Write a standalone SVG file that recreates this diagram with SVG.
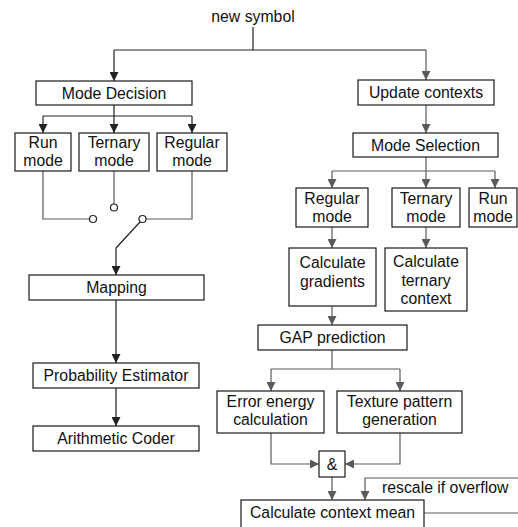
<svg xmlns="http://www.w3.org/2000/svg" width="518" height="527" viewBox="0 0 518 527">
<defs>
<marker id="ad" viewBox="0 0 10 10" refX="10" refY="5" markerWidth="9" markerHeight="9" markerUnits="userSpaceOnUse" orient="auto"><path d="M0,0 L10,5 L0,10 z" fill="#222"/></marker>
<marker id="ag" viewBox="0 0 10 10" refX="10" refY="5" markerWidth="9" markerHeight="9" markerUnits="userSpaceOnUse" orient="auto"><path d="M0,0 L10,5 L0,10 z" fill="#5a5a5a"/></marker>
<style>
.box{fill:#fff;stroke:#1a1a1a;stroke-width:1.2}
text{font-family:"Liberation Sans",Arial,Helvetica,sans-serif;font-size:15.8px;fill:#111;text-anchor:middle}
.cd{fill:none;stroke:#222;stroke-width:1.2}
.cg{fill:none;stroke:#5a5a5a;stroke-width:1.2}
.dd{marker-end:url(#ad)}
.dg{marker-end:url(#ag)}
.sw{fill:#fff;stroke:#222;stroke-width:1.2}
</style>
</defs>
<g id="connectors">
<path class="cd" d="M253,27 V50"/>
<path class="cd" d="M114,50 H426"/>
<path class="cd dd" d="M114,50 V81"/>
<path class="cg dg" d="M426,50 V80"/>
<path class="cd" d="M114,105 V116 M43,116 H192"/>
<path class="cd dd" d="M43,116 V133"/>
<path class="cd dd" d="M114,116 V133"/>
<path class="cd dd" d="M192,116 V133"/>
<path class="cg" d="M43,171 V219 H89.5"/>
<path class="cg" d="M114,171 V204"/>
<path class="cg" d="M192,171 V219 H146"/>
<path class="cd" d="M140,222 L116,248"/>
<path class="cd dd" d="M116,248 V275"/>
<path class="cd dd" d="M116,300 V363"/>
<path class="cd dd" d="M116,388 V426"/>
<path class="cg dg" d="M426,105 V133"/>
<path class="cg" d="M426,157 V171 M332,171 H495"/>
<path class="cg dg" d="M332,171 V188"/>
<path class="cg dg" d="M426,171 V188"/>
<path class="cg dg" d="M495,171 V188"/>
<path class="cg dg" d="M332,227 V248"/>
<path class="cg dg" d="M426,227 V248"/>
<path class="cg dg" d="M332,306 V325"/>
<path class="cg" d="M332,350 V369 M271,369 H400"/>
<path class="cg dg" d="M271,369 V391"/>
<path class="cg dg" d="M400,369 V391"/>
<path class="cg dg" d="M271,433 V464 H319"/>
<path class="cg dg" d="M400,433 V464 H345"/>
<path class="cg dg" d="M332,477 V500"/>
<path class="cg dg" d="M518,478 H365 V500"/>
<path class="cg" d="M424,513 H518"/>
<circle class="sw" cx="93" cy="219" r="3.5"/>
<circle class="sw" cx="114" cy="207.5" r="3.5"/>
<circle class="sw" cx="142.5" cy="219" r="3.5"/>
</g>
<g id="new-symbol"><text x="253" y="22">new symbol</text></g>
<g id="mode-decision"><rect class="box" x="36" y="81" width="156" height="24"/><text x="114" y="98.5">Mode Decision</text></g>
<g id="run-mode-l"><rect class="box" x="15" y="133" width="56" height="38"/><text x="43" y="147.5">Run</text><text x="43" y="165.5">mode</text></g>
<g id="ternary-mode-l"><rect class="box" x="79" y="133" width="70" height="38"/><text x="114" y="147.5">Ternary</text><text x="114" y="165.5">mode</text></g>
<g id="regular-mode-l"><rect class="box" x="157" y="133" width="70" height="38"/><text x="192" y="147.5">Regular</text><text x="192" y="165.5">mode</text></g>
<g id="mapping"><rect class="box" x="29" y="275" width="175" height="25"/><text x="116.5" y="293">Mapping</text></g>
<g id="prob-est"><rect class="box" x="33" y="363" width="166" height="25"/><text x="116" y="381">Probability Estimator</text></g>
<g id="arith-coder"><rect class="box" x="33" y="426" width="166" height="25"/><text x="116" y="444">Arithmetic Coder</text></g>
<g id="update-contexts"><rect class="box" x="358" y="80" width="136" height="25"/><text x="426" y="98">Update contexts</text></g>
<g id="mode-selection"><rect class="box" x="353" y="133" width="145" height="24"/><text x="425.5" y="150.5">Mode Selection</text></g>
<g id="regular-mode-r"><rect class="box" x="296" y="188" width="72" height="39"/><text x="332" y="203.5">Regular</text><text x="332" y="221.5">mode</text></g>
<g id="ternary-mode-r"><rect class="box" x="392" y="188" width="68" height="39"/><text x="426" y="203.5">Ternary</text><text x="426" y="221.5">mode</text></g>
<g id="run-mode-r"><rect class="box" x="469" y="188" width="48" height="39"/><text x="493" y="203.5">Run</text><text x="493" y="221.5">mode</text></g>
<g id="calc-gradients"><rect class="box" x="289" y="248" width="87" height="58"/><text x="332.5" y="268">Calculate</text><text x="332.5" y="287">gradients</text></g>
<g id="calc-ternary"><rect class="box" x="385" y="248" width="82" height="63"/><text x="426" y="267">Calculate</text><text x="426" y="285.5">ternary</text><text x="426" y="304">context</text></g>
<g id="gap-prediction"><rect class="box" x="258" y="325" width="149" height="25"/><text x="332.5" y="343">GAP prediction</text></g>
<g id="error-energy"><rect class="box" x="217" y="391" width="107" height="42"/><text x="270.5" y="407">Error energy</text><text x="270.5" y="425">calculation</text></g>
<g id="texture-pattern"><rect class="box" x="337" y="391" width="125" height="42"/><text x="399.5" y="407">Texture pattern</text><text x="399.5" y="425">generation</text></g>
<g id="and"><rect class="box" x="319" y="451" width="26" height="26"/><text x="332" y="469.5">&amp;</text></g>
<g id="rescale-label"><text x="382" y="493" style="text-anchor:start">rescale if overflow</text></g>
<g id="context-mean"><rect class="box" x="241" y="500" width="183" height="32"/><text x="332.5" y="518">Calculate context mean</text></g>
</svg>
